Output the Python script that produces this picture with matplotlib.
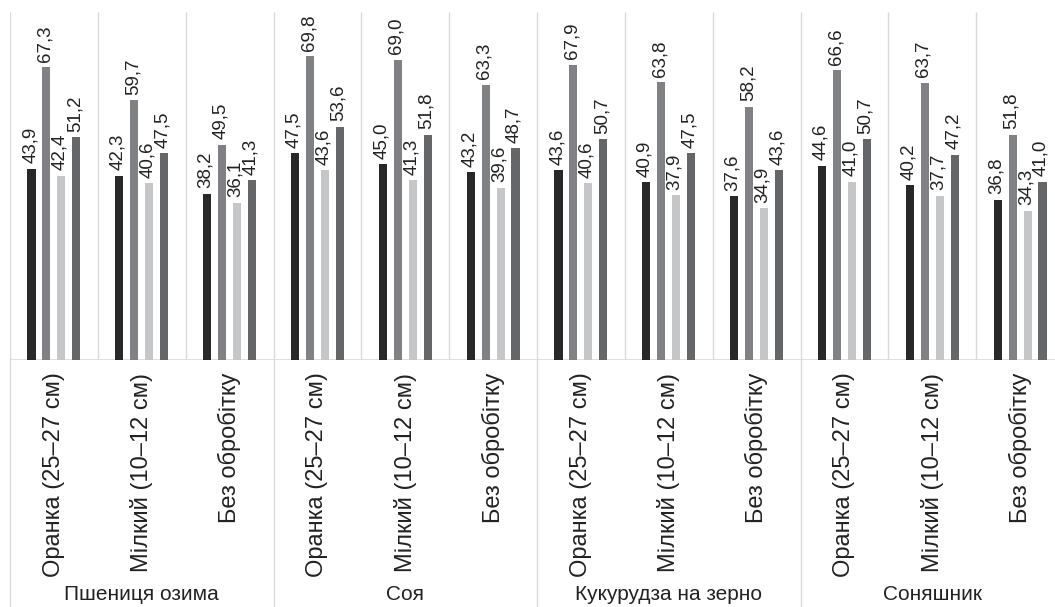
import matplotlib.pyplot as plt
import matplotlib.transforms as mtransforms
from matplotlib.lines import Line2D
import numpy as np

plt.rcParams['font.family'] = ['Liberation Sans', 'DejaVu Sans']

crops = ['Пшениця озима', 'Соя', 'Кукурудза на зерно', 'Соняшник']
tillage = ['Оранка (25–27 см)', 'Мілкий (10–12 см)', 'Без обробітку']

# 4 series, 12 values each (crop x tillage)
s1 = [43.9, 42.3, 38.2, 47.5, 45.0, 43.2, 43.6, 40.9, 37.6, 44.6, 40.2, 36.8]
s2 = [67.3, 59.7, 49.5, 69.8, 69.0, 63.3, 67.9, 63.8, 58.2, 66.6, 63.7, 51.8]
s3 = [42.4, 40.6, 36.1, 43.6, 41.3, 39.6, 40.6, 37.9, 34.9, 41.0, 37.7, 34.3]
s4 = [51.2, 47.5, 41.3, 53.6, 51.8, 48.7, 50.7, 47.5, 43.6, 50.7, 47.2, 41.0]
series = [s1, s2, s3, s4]
colors = ['#282828', '#808184', '#c5c6c8', '#656668']

W, H = 1055, 607
fig = plt.figure(figsize=(W/100, H/100), dpi=100)
ax = fig.add_axes([10/W, (H-360)/H, 1054/W, 348/H])

n = len(crops)*len(tillage)
x = np.arange(n) + 0.5
step = 0.17
bw = 0.092
for i, (vals, c) in enumerate(zip(series, colors)):
    xi = x + (i-1.5)*step
    ax.bar(xi, vals, width=bw, color=c, zorder=3)
    for xx, v in zip(xi, vals):
        ax.annotate(f'{v:.1f}'.replace('.', ','), (xx, v), xytext=(-1, 4),
                    textcoords='offset points', rotation=90,
                    ha='center', va='bottom', fontsize=13.5, color='#222222')

ax.set_xlim(0, n)
ax.set_ylim(0, 80)
for s in ax.spines.values():
    s.set_visible(False)
ax.set_yticks([])
ax.set_xticks(x)
ax.set_xticklabels(tillage*len(crops), rotation=90, fontsize=17, color='#222222')
ax.tick_params(axis='x', length=0, pad=9)

gcol = '#d9d9d9'
ax.axhline(0, color=gcol, lw=1.2, zorder=2)
ax.vlines(np.arange(n+1), 0, 80, color=gcol, lw=1, zorder=1)

trans = mtransforms.blended_transform_factory(ax.transData, fig.transFigure)
for k in range(len(crops)+1):
    xb = k*len(tillage)
    fig.add_artist(Line2D([xb, xb], [0, (H-360)/H], transform=trans,
                          color=gcol, lw=1))
for k, name in enumerate(crops):
    xc = k*len(tillage) + len(tillage)/2
    fig.text(xc, 12/H, name, transform=trans, ha='center', va='center',
             fontsize=15, color='#222222')

fig.savefig('out.png', dpi=100)
